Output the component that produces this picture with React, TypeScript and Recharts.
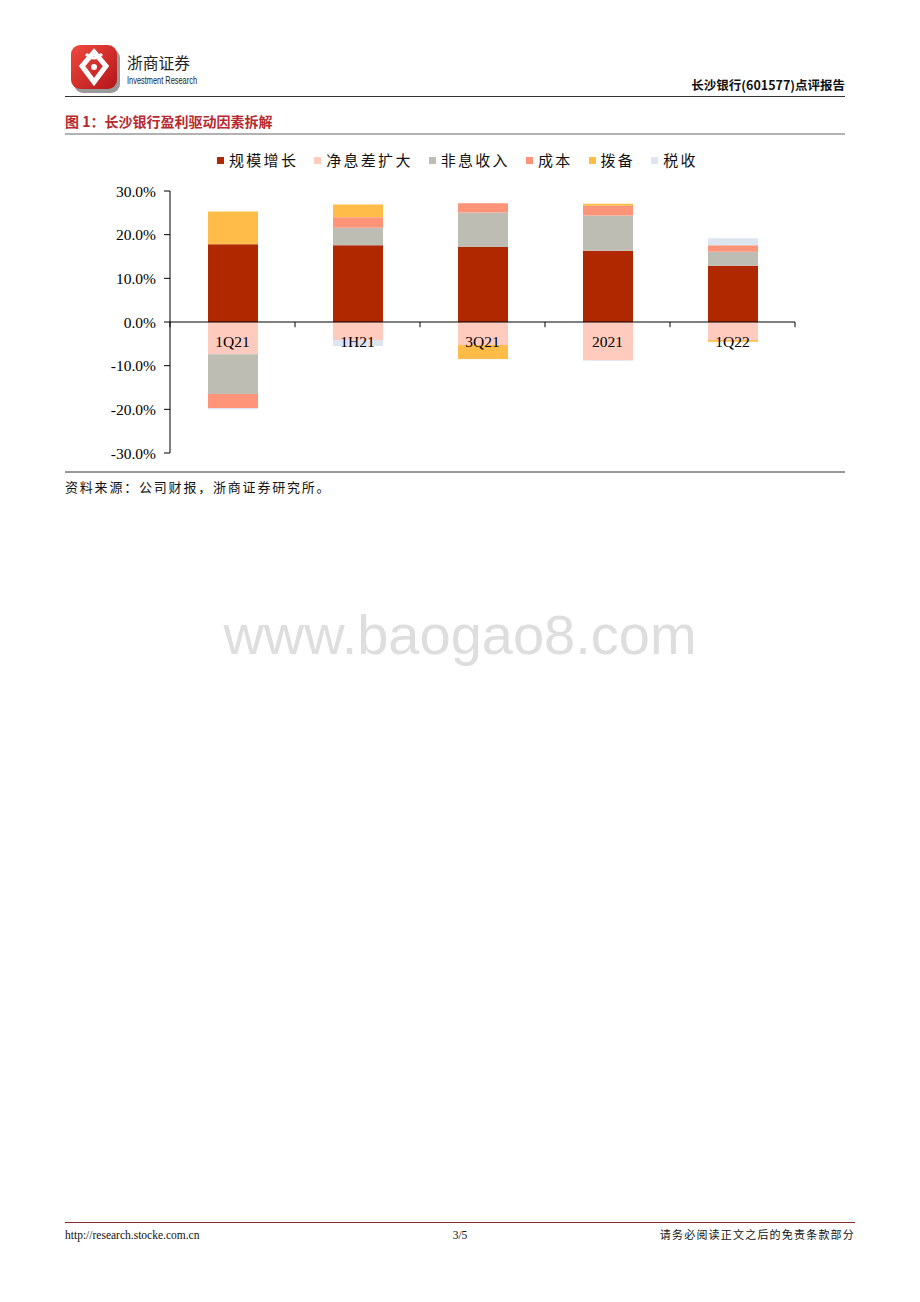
import React from 'react';
import { BarChart, Bar, XAxis, YAxis, ReferenceLine, ReferenceDot } from 'recharts';

const categories = ['1Q21', '1H21', '3Q21', '2021', '1Q22'];
const scaleGrowth = [17.8, 17.6, 17.2, 16.3, 12.9];
const nimExpansion = [-7.4, -4.1, -5.25, -8.7, -4.1];
const nonInterest = [-9.1, 4.0, 7.9, 8.1, 3.2];
const costs = [-3.2, 2.4, 2.1, 2.2, 1.5];
const provisions = [7.5, 2.9, -3.2, 0.5, -0.4];
const taxes = [-0.3, -1.4, -0.1, -0.2, 1.6];
const yTicks = [-30, -20, -10, 0, 10, 20, 30];

const seriesNames = ['规模增长', '净息差扩大', '非息收入', '成本', '拨备', '税收'];
const seriesKeys = ['scale', 'nim', 'nonInt', 'cost', 'prov', 'tax'];
const seriesColors = ['#B02800', '#FFCBBE', '#BDBDB3', '#FF9478', '#FFBC48', '#DDE5F0'];

const data = categories.map((c, i) => ({
  cat: c,
  scale: scaleGrowth[i],
  nim: nimExpansion[i],
  nonInt: nonInterest[i],
  cost: costs[i],
  prov: provisions[i],
  tax: taxes[i],
}));

const boundaryTicks = [
  ...categories.map((c) => ({ cat: c, position: 'start' as const })),
  { cat: categories[categories.length - 1], position: 'end' as const },
];

const serif = '"Liberation Serif", "Times New Roman", serif';
const cjk = '"Noto Sans CJK SC", "Noto Sans", sans-serif';

function Logo() {
  return (
    <svg width={60} height={56} style={{ position: 'absolute', left: 66, top: 40 }}>
      <defs>
        <linearGradient id="lg" x1="0" y1="0" x2="1" y2="1">
          <stop offset="0%" stopColor="#F04A3E" />
          <stop offset="100%" stopColor="#B3151B" />
        </linearGradient>
      </defs>
      <rect x={8} y={9} width={46} height={44} rx={9} fill="#9a9a9a" />
      <rect x={5} y={5} width={46} height={44} rx={9} fill="url(#lg)" />
      <path d="M28 12 L40 26 L28 42 L16 26 Z" fill="none" stroke="#fff" strokeWidth={5} />
      <path d="M20 14 Q28 22 36 14" fill="none" stroke="#fff" strokeWidth={3} />
      <circle cx={28} cy={27} r={3} fill="#fff" />
    </svg>
  );
}

function Legend() {
  return (
    <div
      style={{
        position: 'absolute',
        left: 217,
        top: 150,
        display: 'flex',
        alignItems: 'center',
        fontFamily: cjk,
        fontSize: 15,
        letterSpacing: 2.3,
        color: '#111',
        whiteSpace: 'nowrap',
        lineHeight: '20px',
      }}
    >
      {seriesNames.map((n, i) => (
        <div key={n} style={{ display: 'flex', alignItems: 'center', marginRight: i < 5 ? 16 : 0 }}>
          <span style={{ width: 7, height: 7, background: seriesColors[i], display: 'inline-block', marginRight: 5 }} />
          <span>{n}</span>
        </div>
      ))}
    </div>
  );
}

export default function App() {
  return (
    <div style={{ position: 'absolute', left: 0, top: 0, width: 920, height: 1302, background: '#fff', overflow: 'hidden' }}>
      <Logo />
      <svg width={920} height={140} style={{ position: 'absolute', left: 0, top: 0 }}>
        <text x={127} y={69} fontFamily={cjk} fontSize={16} fill="#222" textLength={63} lengthAdjust="spacingAndGlyphs">浙商证券</text>
        <text x={127} y={84} fontFamily={'"Liberation Sans Narrow", "Liberation Sans", sans-serif'} fontSize={11} fill="#222" textLength={70} lengthAdjust="spacingAndGlyphs">Investment Research</text>
        <text x={845} y={90} textAnchor="end" fontFamily={cjk} fontSize={12.5} fontWeight={700} fill="#111">长沙银行(601577)点评报告</text>
        <line x1={65} x2={845} y1={96.5} y2={96.5} stroke="#333" strokeWidth={1} />
        <text x={65} y={127} fontFamily={cjk} fontSize={14} fontWeight={700} fill="#B8282E">图 1：长沙银行盈利驱动因素拆解</text>
        <line x1={65} x2={845} y1={134} y2={134} stroke="#999" strokeWidth={1.5} />
      </svg>
      <Legend />
      <div style={{ position: 'absolute', left: 0, top: 140 }}>
        <BarChart
          width={920}
          height={340}
          data={data}
          stackOffset="sign"
          margin={{ top: 51, right: 125, left: 0, bottom: 27 }}
        >
          <XAxis dataKey="cat" hide height={0} />
          <YAxis
            width={170}
            domain={[-30, 30]}
            ticks={yTicks}
            interval={0}
            tickSize={6}
            tickMargin={8}
            axisLine={{ stroke: '#000' }}
            tickLine={{ stroke: '#000' }}
            tick={{ fontFamily: serif, fontSize: 15.5, fill: '#000' }}
            tickFormatter={(v: number) => `${v.toFixed(1)}%`}
          />
          {seriesKeys.map((k, i) => (
            <Bar key={k} dataKey={k} name={seriesNames[i]} stackId="a" fill={seriesColors[i]} barSize={50} isAnimationActive={false} />
          ))}
          <ReferenceLine y={0} stroke="#000" strokeWidth={1} />
          {boundaryTicks.map((t, i) => (
            <ReferenceLine
              key={i}
              position={t.position}
              segment={[{ x: t.cat, y: 0 }, { x: t.cat, y: -1.2 }]}
              stroke="#000"
              strokeWidth={1}
            />
          ))}
          {categories.map((c) => (
            <ReferenceDot
              key={c}
              x={c}
              y={0}
              r={0}
              fill="none"
              stroke="none"
              label={{ value: c, position: 'bottom', offset: 14, fontFamily: serif, fontSize: 15.5, fill: '#000' }}
            />
          ))}
        </BarChart>
      </div>
      <svg width={920} height={60} style={{ position: 'absolute', left: 0, top: 460 }}>
        <line x1={65} x2={845} y1={12} y2={12} stroke="#333" strokeWidth={1} />
        <text x={65} y={32} fontFamily={cjk} fontSize={13} fill="#111" letterSpacing={1.8}>资料来源：公司财报，浙商证券研究所。</text>
      </svg>
      <div
        style={{
          position: 'absolute',
          left: 0,
          width: 920,
          top: 600,
          textAlign: 'center',
          fontFamily: '"Liberation Sans", Arial, sans-serif',
          fontSize: 56,
          color: '#DEDEDE',
          lineHeight: '70px',
        }}
      >
        www.baogao8.com
      </div>
      <svg width={920} height={40} style={{ position: 'absolute', left: 0, top: 1210 }}>
        <line x1={65} x2={855} y1={12.5} y2={12.5} stroke="#8B2A2A" strokeWidth={1} />
        <text x={65} y={29} fontFamily={serif} fontSize={11.5} fill="#111">http://research.stocke.com.cn</text>
        <text x={460} y={29} textAnchor="middle" fontFamily={serif} fontSize={11.5} fill="#111">3/5</text>
        <text x={855} y={29} textAnchor="end" fontFamily={cjk} fontSize={11} fill="#111" letterSpacing={1.2}>请务必阅读正文之后的免责条款部分</text>
      </svg>
    </div>
  );
}
